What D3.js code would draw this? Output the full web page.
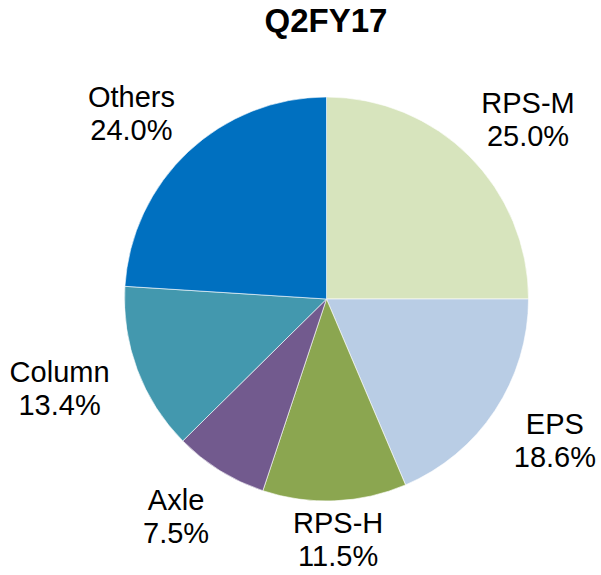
<!DOCTYPE html>
<html>
<head>
<meta charset="utf-8">
<script src="https://cdn.jsdelivr.net/npm/d3@7"></script>
<style>
  body { margin: 0; background: #fff; }
  text { font-family: "Liberation Sans", Arial, sans-serif; fill: #000; }
</style>
</head>
<body>
<script>
// data
const categories = ["RPS-M", "EPS", "RPS-H", "Axle", "Column", "Others"];
const shares = [25.0, 18.6, 11.5, 7.5, 13.4, 24.0];
const colors = ["#D7E4BD", "#B9CDE5", "#8BA650", "#725A8E", "#4398AE", "#0070C0"];
const title = "Q2FY17";

let w = 601, h = 575;
let cx = 326.5, cy = 299, radius = 202;
// label centres sit on an ellipse round the pie
let labelRx = 285, labelRy = 255;

let svg = d3.select("body").append("svg").attr("width", w).attr("height", h);

svg.append("text")
    .attr("x", 326)
    .attr("y", 32)
    .attr("text-anchor", "middle")
    .style("font-size", "33px")
    .style("font-weight", "bold")
    .text(title);

const data = categories.map((c, i) => ({ name: c, value: shares[i], color: colors[i] }));

const pie = d3.pie().sort(null).value(d => d.value);
const arc = d3.arc().innerRadius(0).outerRadius(radius);

const g = svg.append("g").attr("transform", `translate(${cx},${cy})`);

const arcs = pie(data);

g.selectAll("path")
    .data(arcs)
    .enter().append("path")
    .attr("d", arc)
    .attr("fill", d => d.data.color)
    .attr("stroke", "#fff")
    .attr("stroke-width", 0.6);

// labels, kept inside the chart area
const fs = 29, lineH = 33, cap = fs * 0.72;
arcs.forEach(d => {
    const lab = g.append("text")
        .attr("text-anchor", "middle")
        .style("font-size", fs + "px");
    lab.append("tspan").attr("x", 0).attr("dy", 0).text(d.data.name);
    lab.append("tspan").attr("x", 0).attr("dy", lineH).text(d3.format(".1f")(d.data.value) + "%");

    let bw = 0;
    lab.selectAll("tspan").each(function () { bw = Math.max(bw, this.getComputedTextLength()); });
    const bh = lineH + cap;

    const a = (d.startAngle + d.endAngle) / 2;
    let x = cx + Math.sin(a) * labelRx;
    let y = cy - Math.cos(a) * labelRy;

    x = Math.max(5 + bw / 2, Math.min(w - 5 - bw / 2, x));
    y = Math.min(h - 9 - bh / 2, y);

    lab.attr("transform", `translate(${x - cx},${y - bh / 2 + cap - cy})`);
});
</script>
</body>
</html>
